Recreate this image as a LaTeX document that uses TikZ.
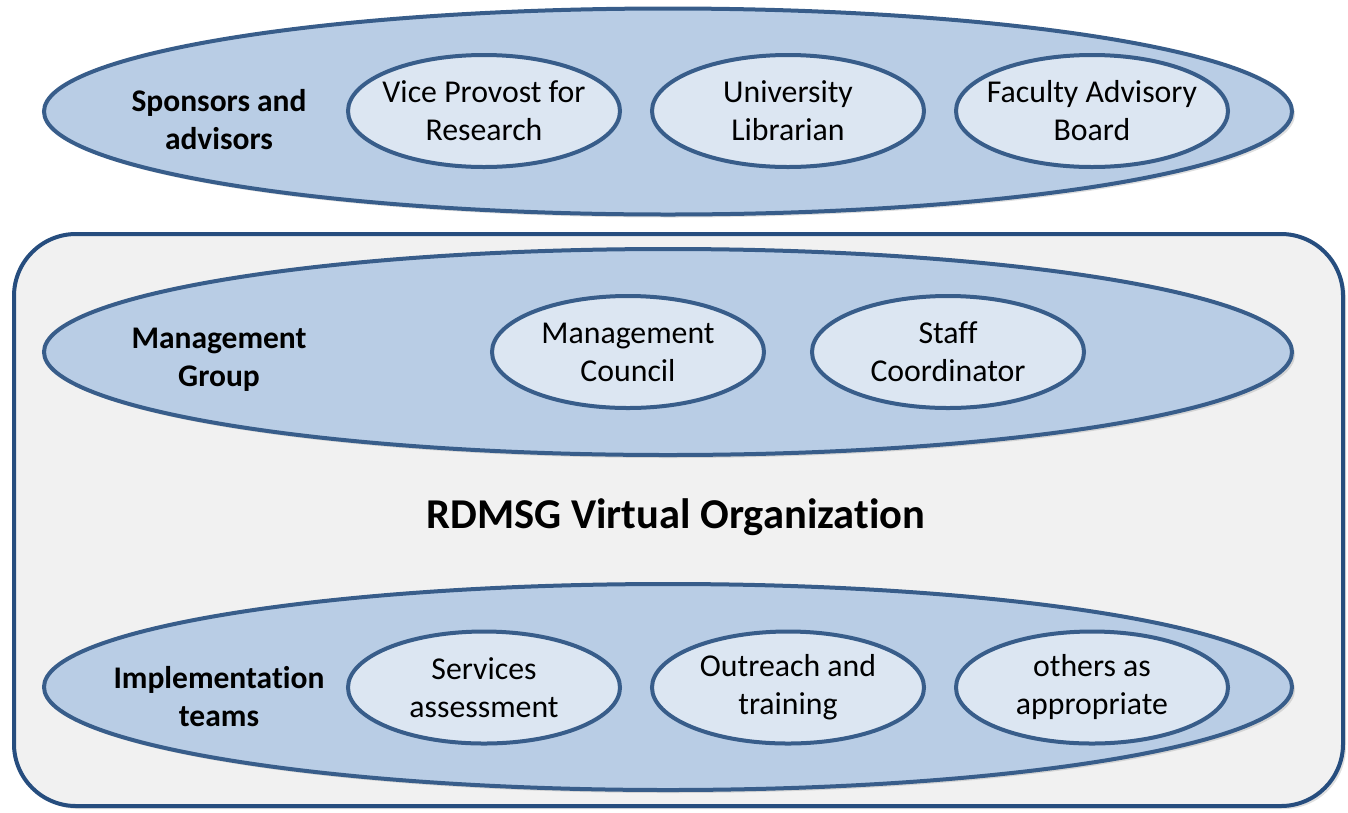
\documentclass[tikz,border=0pt]{standalone}
\usepackage{fontspec}
\setmainfont{Carlito}[Ligatures=NoCommon]
\usetikzlibrary{shapes.geometric,shadows}
\definecolor{edgeblue}{HTML}{385D8A}
\definecolor{boxedge}{HTML}{264D7E}
\definecolor{outerfill}{HTML}{B9CDE5}
\definecolor{innerfill}{HTML}{DCE6F2}
\definecolor{boxfill}{HTML}{F1F1F1}
\tikzset{
  orgbox/.style={draw=boxedge, line width=4pt, fill=boxfill, rounded corners=62pt,
    minimum width=1329pt, minimum height=572pt, inner sep=0pt,
    drop shadow={opacity=0.25, shadow xshift=3pt, shadow yshift=-3pt}},
  groupell/.style={ellipse, draw=edgeblue, line width=4pt, fill=outerfill,
    minimum width=1248pt, minimum height=206pt, inner sep=0pt,
    drop shadow={opacity=0.25, shadow xshift=3pt, shadow yshift=-3pt}},
  unitell/.style={ellipse, draw=edgeblue, line width=4pt, fill=innerfill,
    minimum width=272pt, minimum height=112pt, inner xsep=-20pt, inner ysep=0pt,
    align=center, font=\fontsize{31.8}{38}\selectfont},
  grouplabel/.style={align=center, font=\fontsize{31.5}{38}\selectfont\bfseries},
  titlelabel/.style={font=\fontsize{42.5}{50}\selectfont\bfseries}
}
\begin{document}
\begin{tikzpicture}[x=1pt,y=-1pt]
\useasboundingbox (0,0) rectangle (1348,812);
\node[orgbox] (vo) at (678.5,520) {};
\node[groupell] (spons) at (668,111.5) {};
\node[groupell] (mgmt) at (668,352) {};
\node[groupell] (impl) at (668,687) {};

\node[grouplabel] (spl) at (219,120) {Sponsors and\\advisors};
\node[grouplabel] (mgl) at (219,360) {Management\\Group};
\node[grouplabel] (iml) at (219,697) {Implementation\\teams};

\node[unitell] (vpr) at (484,111) {Vice Provost for\\Research};
\node[unitell] (ul) at (788,111) {University\\Librarian};
\node[unitell] (fab) at (1092,111) {Faculty Advisory\\Board};

\node[unitell] (mc) at (628,352) {Management\\Council};
\node[unitell] (sc) at (948,352) {Staff\\Coordinator};

\node[unitell] (sa) at (484,687.5) {Services\\assessment};
\node[unitell] (ot) at (788,687.5) {Outreach and\\training};
\node[unitell] (oa) at (1092,687.5) {others as\\appropriate};

\node[titlelabel] (title) at (676,517) {RDMSG Virtual Organization};
\end{tikzpicture}
\end{document}
